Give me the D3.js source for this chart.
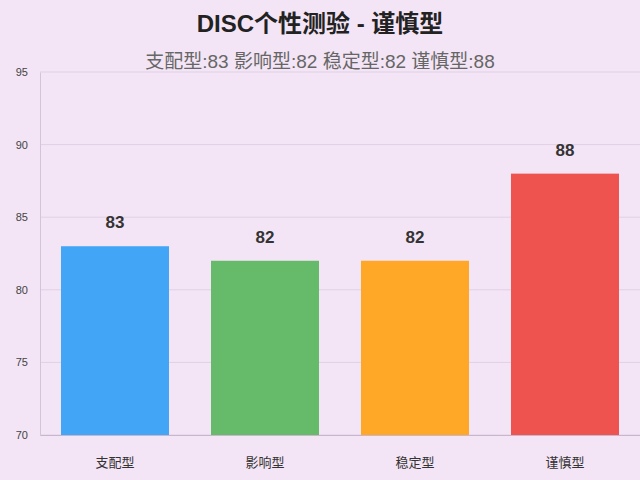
<!DOCTYPE html>
<html><head><meta charset="utf-8">
<script src="https://cdn.jsdelivr.net/npm/d3@7/dist/d3.min.js"></script>
<style>body{margin:0;background:#f3e5f5;}</style></head>
<body><svg id="c" width="640" height="480"></svg>
<script>
const categories=["支配型","影响型","稳定型","谨慎型"];
const values=[83,82,82,88];
const colors=["#42a5f5","#66bb6a","#ffa726","#ef5350"];
const yTicks=[70,75,80,85,90,95];
const svg=d3.select("#c");
const font="'Liberation Sans','Noto Sans CJK SC',sans-serif";
svg.append("rect").attr("width",640).attr("height",480).attr("fill","#f3e5f5");
const x=d3.scaleBand().domain(categories).range([40,640]).paddingInner(0.28).paddingOuter(0.14);
const y=d3.scaleLinear().domain([70,95]).range([435,72]);
svg.selectAll(".g").data(yTicks).enter().append("line")
 .attr("x1",40).attr("x2",640).attr("y1",d=>y(d)).attr("y2",d=>y(d))
 .attr("stroke","#e1cfe6").attr("stroke-width",1);
const ya=svg.append("g").attr("transform","translate(40,0)").call(d3.axisLeft(y).tickValues(yTicks).tickSize(0).tickPadding(12));
ya.select(".domain").attr("stroke","#d5c3da");
ya.selectAll("text").attr("font-family",font).attr("font-size",11).attr("fill","#444");
const xa=svg.append("g").attr("transform","translate(0,435)").call(d3.axisBottom(x).tickSize(0).tickPadding(23));
xa.select(".domain").attr("stroke","#c8b6cd");
xa.selectAll("text").attr("font-family",font).attr("font-size",13).attr("fill","#333");
svg.selectAll(".b").data(values).enter().append("rect")
 .attr("x",(d,i)=>x(categories[i])).attr("width",x.bandwidth())
 .attr("y",d=>y(d)).attr("height",d=>435-y(d)).attr("fill",(d,i)=>colors[i]);
svg.selectAll(".l").data(values).enter().append("text")
 .attr("x",(d,i)=>x(categories[i])+x.bandwidth()/2).attr("y",d=>y(d)-18)
 .attr("text-anchor","middle").attr("font-family",font).attr("font-weight","bold")
 .attr("font-size",17).attr("fill","#333").text(d=>d);
svg.append("text").attr("x",320).attr("y",32).attr("text-anchor","middle")
 .attr("font-family",font).attr("font-weight","bold").attr("font-size",24).attr("fill","#222")
 .text("DISC个性测验 - 谨慎型");
svg.append("text").attr("x",320).attr("y",68).attr("text-anchor","middle")
 .attr("font-family",font).attr("font-size",19).attr("fill","#666")
 .text(categories.map((c,i)=>c+":"+values[i]).join(" "));
</script></body></html>
